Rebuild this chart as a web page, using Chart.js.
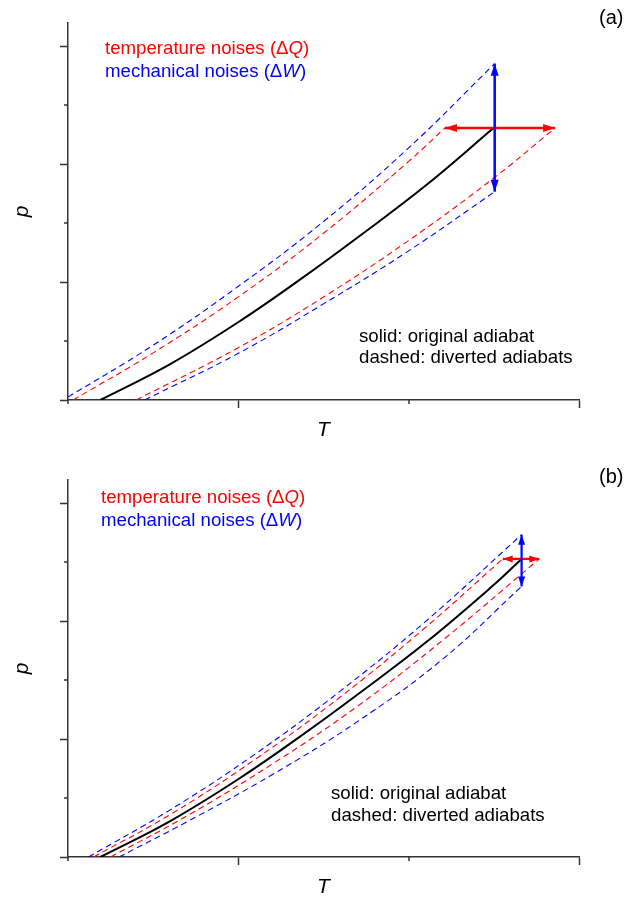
<!DOCTYPE html>
<html>
<head>
<meta charset="utf-8">
<title>Adiabats under noise</title>
<script src="https://cdn.jsdelivr.net/npm/chart.js@4.4.1/dist/chart.umd.min.js"></script>
<style>
  body { margin: 0; background: #fff; }
  canvas { display: block; }
</style>
</head>
<body>
<canvas id="panel-a" width="641" height="457"></canvas>
<canvas id="panel-b" width="641" height="441"></canvas>
<script>
// tick marks only, no tick labels
const xMajor = [1, 3];
const xMinor = [0, 2];
const yMajor = [0, 1, 2, 3];
const yMinor = [0.5, 1.5, 2.5];

// (a) original adiabat
const aSolidT = [0.19, 0.60, 1.02, 1.37, 1.71, 2.10, 2.50];
const aSolidP = [0, 0.305, 0.68, 1.03, 1.39, 1.82, 2.31];
// (a) diverted by mechanical noise
const aBlueUpT = [0, 0.5, 1.0, 1.5, 2.0, 2.505];
const aBlueUpP = [0.025, 0.465, 0.965, 1.515, 2.14, 2.855];
const aBlueLoT = [0.45, 1.0, 1.5, 2.0, 2.505];
const aBlueLoP = [0, 0.396, 0.816, 1.266, 1.768];
// (a) diverted by temperature noise
const aRedUpT = [0.03, 0.5, 1.0, 1.5, 2.0, 2.213];
const aRedUpP = [0, 0.40, 0.875, 1.415, 2.025, 2.309];
const aRedLoT = [0.40, 1.0, 1.5, 2.0, 2.5, 2.86];
const aRedLoP = [0, 0.444, 0.874, 1.354, 1.884, 2.309];
// (a) noise arrows
const aRedArrowT = [2.213, 2.86];
const aRedArrowP = [2.309, 2.309];
const aBlueArrowT = [2.505, 2.505];
const aBlueArrowP = [1.768, 2.855];

// (b) original adiabat
const bSolidT = [0.19, 0.60, 1.02, 1.37, 1.71, 2.10, 2.50, 2.663];
const bSolidP = [0, 0.305, 0.68, 1.03, 1.39, 1.82, 2.31, 2.53];
// (b) diverted by mechanical noise
const bBlueUpT = [0.12, 0.6, 1.1, 1.6, 2.1, 2.663];
const bBlueUpP = [0, 0.40, 0.875, 1.41, 2.0, 2.736];
const bBlueLoT = [0.30, 0.7, 1.2, 1.7, 2.2, 2.663];
const bBlueLoP = [0, 0.30, 0.70, 1.15, 1.68, 2.297];
// (b) diverted by temperature noise
const bRedUpT = [0.15, 0.6, 1.1, 1.6, 2.1, 2.552];
const bRedUpP = [0, 0.36, 0.83, 1.36, 1.95, 2.53];
const bRedLoT = [0.25, 0.7, 1.2, 1.7, 2.2, 2.767];
const bRedLoP = [0, 0.35, 0.79, 1.28, 1.84, 2.53];
// (b) noise arrows
const bRedArrowT = [2.552, 2.767];
const bRedArrowP = [2.53, 2.53];
const bBlueArrowT = [2.663, 2.663];
const bBlueArrowP = [2.297, 2.736];

const RED = '#ff0000';
const BLUE = '#0000ff';
const AXIS = '#333333';
const FONT = '"Liberation Sans", Arial, sans-serif';

function pts(T, P) {
  return T.map((t, i) => ({ x: t, y: P[i] }));
}

function curve(T, P, color, dashed, order) {
  return {
    data: pts(T, P),
    borderColor: color,
    borderWidth: dashed ? 1.1 : 2,
    borderDash: dashed ? [6, 4] : [],
    tension: 0.4,
    pointRadius: 0,
    fill: false,
    order: order
  };
}

function arrow(T, P, color, width, head, order) {
  return {
    data: pts(T, P),
    borderColor: color,
    borderWidth: width,
    borderCapStyle: 'butt',
    tension: 0,
    pointRadius: 0,
    fill: false,
    order: order,
    arrowHead: head
  };
}

// short ticks between the major ones
const minorTicks = {
  id: 'minorTicks',
  afterDraw(chart) {
    const ctx = chart.ctx, xs = chart.scales.x, ys = chart.scales.y;
    ctx.save();
    ctx.strokeStyle = AXIS;
    ctx.lineWidth = 1.5;
    ctx.beginPath();
    xMinor.forEach(v => {
      const px = Math.round(xs.getPixelForValue(v));
      ctx.moveTo(px, xs.top);
      ctx.lineTo(px, xs.top + 4);
    });
    yMinor.forEach(v => {
      const py = Math.round(ys.getPixelForValue(v));
      ctx.moveTo(ys.right, py);
      ctx.lineTo(ys.right - 4, py);
    });
    ctx.stroke();
    ctx.restore();
  }
};

// filled heads on both ends of the arrow datasets
const arrowHeads = {
  id: 'arrowHeads',
  afterDatasetsDraw(chart) {
    const ctx = chart.ctx;
    chart.data.datasets.forEach((ds, i) => {
      if (!ds.arrowHead) return;
      const el = chart.getDatasetMeta(i).data;
      const len = ds.arrowHead[0], half = ds.arrowHead[1];
      const ends = [[el[1], el[0]], [el[el.length - 2], el[el.length - 1]]];
      ctx.save();
      ctx.fillStyle = ds.borderColor;
      ends.forEach(([from, tip]) => {
        const a = Math.atan2(tip.y - from.y, tip.x - from.x);
        const bx = tip.x - len * Math.cos(a), by = tip.y - len * Math.sin(a);
        ctx.beginPath();
        ctx.moveTo(tip.x, tip.y);
        ctx.lineTo(bx + half * Math.sin(a), by - half * Math.cos(a));
        ctx.lineTo(bx - half * Math.sin(a), by + half * Math.cos(a));
        ctx.closePath();
        ctx.fill();
      });
      ctx.restore();
    });
  }
};

// text runs: [text, italic, color]
function drawRuns(ctx, x, y, runs, size) {
  let cx = x;
  runs.forEach(([txt, italic, color]) => {
    ctx.font = (italic ? 'italic ' : '') + size + 'px ' + FONT;
    ctx.fillStyle = color;
    ctx.fillText(txt, cx, y);
    cx += ctx.measureText(txt).width;
  });
}

function notes(lines) {
  return {
    id: 'notes',
    afterDraw(chart) {
      const ctx = chart.ctx;
      ctx.save();
      ctx.textBaseline = 'alphabetic';
      ctx.textAlign = 'left';
      lines.forEach(l => drawRuns(ctx, l.x, l.y, l.runs, l.size));
      ctx.restore();
    }
  };
}

function makeChart(id, datasets, padBottom, lines) {
  return new Chart(document.getElementById(id), {
    type: 'line',
    data: { datasets: datasets },
    options: {
      responsive: false,
      animation: false,
      events: [],
      layout: { padding: { top: 23, right: 62, bottom: padBottom, left: 0 } },
      plugins: { legend: { display: false }, tooltip: { enabled: false } },
      scales: {
        x: {
          type: 'linear',
          min: 0,
          max: 3,
          afterBuildTicks: s => { s.ticks = xMajor.map(v => ({ value: v })); },
          afterFit: s => { s.height = 41; },
          ticks: { display: false },
          grid: { drawOnChartArea: false, tickLength: 8, tickWidth: 1.5, tickColor: AXIS },
          border: { color: AXIS, width: 1.5 },
          title: {
            display: true, text: 'T', color: '#000',
            font: { family: FONT, size: 21, style: 'italic', lineHeight: 1 },
            padding: { top: 0, bottom: 0 }
          }
        },
        y: {
          type: 'linear',
          min: 0,
          max: 3.2,
          afterBuildTicks: s => { s.ticks = yMajor.map(v => ({ value: v })); },
          afterFit: s => { s.width = 68; },
          ticks: { display: false },
          grid: { drawOnChartArea: false, tickLength: 8, tickWidth: 1.5, tickColor: AXIS },
          border: { color: AXIS, width: 1.5 },
          title: {
            display: true, text: 'p', color: '#000',
            font: { family: FONT, size: 21, style: 'italic', lineHeight: 1 },
            padding: { top: 12, bottom: 0 }
          }
        }
      }
    },
    plugins: [minorTicks, arrowHeads, notes(lines)]
  });
}

const NOTE = 18.67;

makeChart('panel-a', [
  arrow(aBlueArrowT, aBlueArrowP, BLUE, 2.5, [12, 4], 0),
  arrow(aRedArrowT, aRedArrowP, RED, 2.5, [12, 4], 1),
  curve(aSolidT, aSolidP, '#000', false, 2),
  curve(aRedUpT, aRedUpP, RED, true, 3),
  curve(aRedLoT, aRedLoP, RED, true, 3),
  curve(aBlueUpT, aBlueUpP, BLUE, true, 4),
  curve(aBlueLoT, aBlueLoP, BLUE, true, 4)
], 16, [
  { x: 599, y: 24, size: 20, runs: [['(a)', false, '#000']] },
  { x: 105, y: 54, size: NOTE, runs: [['temperature noises (\u0394', false, RED], ['Q', true, RED], [')', false, RED]] },
  { x: 105, y: 77, size: NOTE, runs: [['mechanical noises (\u0394', false, BLUE], ['W', true, BLUE], [')', false, BLUE]] },
  { x: 359, y: 342, size: NOTE, runs: [['solid: original adiabat', false, '#000']] },
  { x: 359, y: 363, size: NOTE, runs: [['dashed: diverted adiabats', false, '#000']] }
]);

makeChart('panel-b', [
  arrow(bBlueArrowT, bBlueArrowP, BLUE, 2.2, [10, 3.5], 0),
  arrow(bRedArrowT, bRedArrowP, RED, 2.2, [10, 3.5], 1),
  curve(bSolidT, bSolidP, '#000', false, 2),
  curve(bRedUpT, bRedUpP, RED, true, 3),
  curve(bRedLoT, bRedLoP, RED, true, 3),
  curve(bBlueUpT, bBlueUpP, BLUE, true, 4),
  curve(bBlueLoT, bBlueLoP, BLUE, true, 4)
], 0, [
  { x: 599, y: 26, size: 20, runs: [['(b)', false, '#000']] },
  { x: 101, y: 46, size: NOTE, runs: [['temperature noises (\u0394', false, RED], ['Q', true, RED], [')', false, RED]] },
  { x: 101, y: 69, size: NOTE, runs: [['mechanical noises (\u0394', false, BLUE], ['W', true, BLUE], [')', false, BLUE]] },
  { x: 331, y: 342, size: NOTE, runs: [['solid: original adiabat', false, '#000']] },
  { x: 331, y: 364, size: NOTE, runs: [['dashed: diverted adiabats', false, '#000']] }
]);
</script>
</body>
</html>
